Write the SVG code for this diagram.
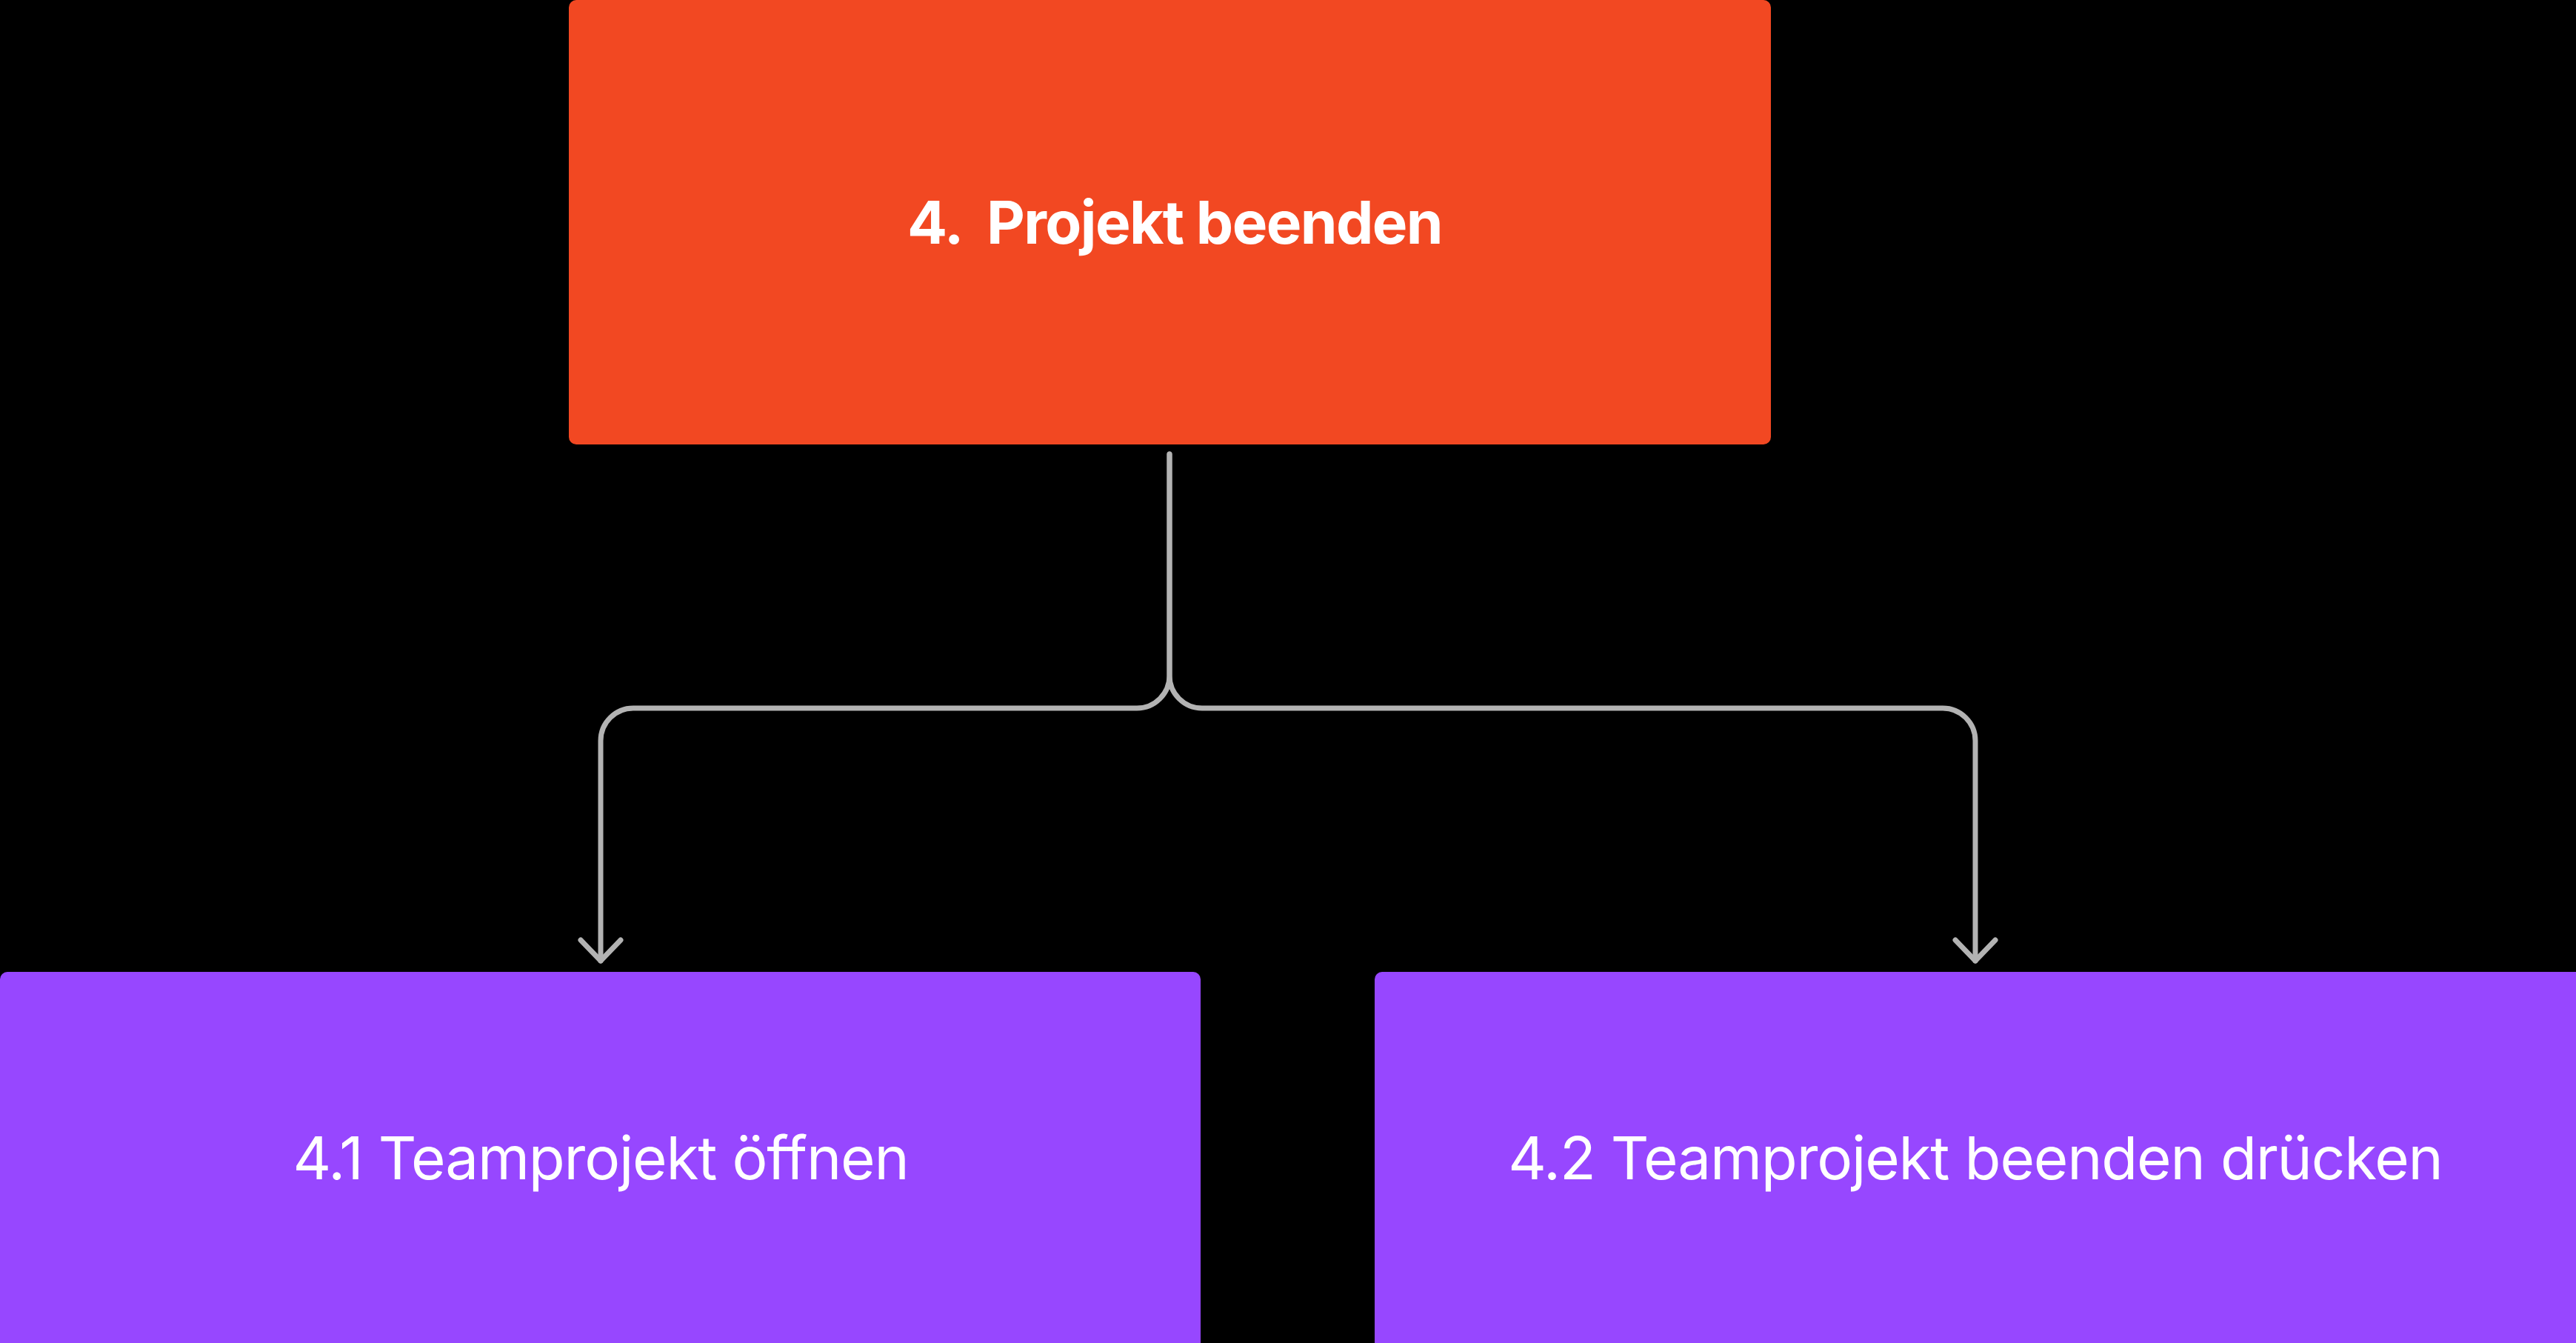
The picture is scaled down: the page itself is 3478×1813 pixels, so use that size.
<svg xmlns="http://www.w3.org/2000/svg" width="3478" height="1813" viewBox="0 0 3478 1813">
<style>
.bg{fill:#000000}
.orange{fill:#F24822}
.purple{fill:#9747FF}
.title{font-family:Inter,"Noto Sans","Liberation Sans",sans-serif;font-size:80px;font-weight:700;fill:#FFFFFF;letter-spacing:-1.6px}
.label{font-family:Inter,"Noto Sans","Liberation Sans",sans-serif;font-size:80px;font-weight:400;fill:#FFFFFF;letter-spacing:-1.2px}
.conn{fill:none;stroke:#B3B3B3;stroke-width:7;stroke-linecap:round;stroke-linejoin:round}
</style>
<defs>
<marker id="arr" markerUnits="userSpaceOnUse" markerWidth="80" markerHeight="80" viewBox="-40 -40 80 80" refX="0" refY="0" orient="auto" overflow="visible">
<path d="M-28,-27 L0,0 L-28,27" fill="none" stroke="#B3B3B3" stroke-width="7" stroke-linecap="round" stroke-linejoin="round"/>
</marker>
</defs>
<rect class="bg" x="0" y="0" width="3478" height="1813"/>
<g id="connectors">
<path class="conn" d="M1579,613 V912 A44,44 0 0 1 1535,956 H855 A44,44 0 0 0 811,1000 V1297" marker-end="url(#arr)"/>
<path class="conn" d="M1579,613 V912 A44,44 0 0 0 1623,956 H2623 A44,44 0 0 1 2667,1000 V1297" marker-end="url(#arr)"/>
</g>
<g id="node-4">
<rect class="orange" x="768" y="0" width="1623" height="600" rx="10"/>
<text class="title" x="1586" y="329" text-anchor="middle" xml:space="preserve">4.  Projekt beenden</text>
</g>
<g id="node-4-1">
<rect class="purple" x="0" y="1312" width="1621" height="510" rx="10"/>
<text class="label" x="811" y="1592" text-anchor="middle">4.1 Teamprojekt öffnen</text>
</g>
<g id="node-4-2">
<rect class="purple" x="1856" y="1312" width="1632" height="510" rx="10"/>
<text class="label" x="2667" y="1592" text-anchor="middle">4.2 Teamprojekt beenden drücken</text>
</g>
</svg>
